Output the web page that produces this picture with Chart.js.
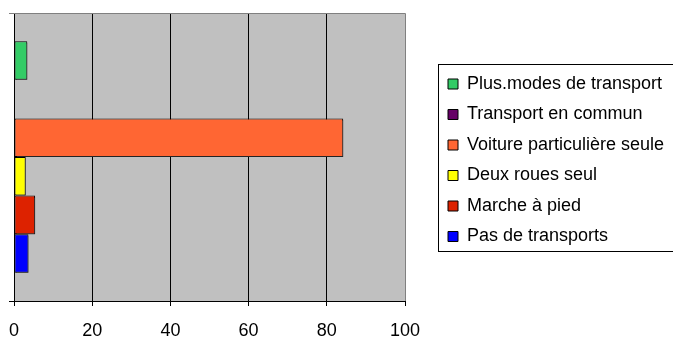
<!DOCTYPE html>
<html>
<head>
<meta charset="utf-8">
<script src="https://cdn.jsdelivr.net/npm/chart.js@4/dist/chart.umd.min.js"></script>
<style>
html,body{margin:0;padding:0;background:#fff;}
#wrap{width:673px;height:338px;position:relative;}
</style>
</head>
<body>
<div id="wrap"><canvas id="c" width="673" height="338"></canvas></div>
<script>
// Data
const categories = [''];
const seriesNames = ['Plus.modes de transport','Transport en commun','Voiture particulière seule','Deux roues seul','Marche à pied','Pas de transports'];
const seriesValues = [3.4, 0, 84.2, 3.0, 5.4, 3.7];
const seriesColors = ['#33CC66','#660066','#FF6633','#FFFF00','#DD2200','#0000FF'];
const xTicks = [0,20,40,60,80,100];

const FONT = '"Liberation Sans", Arial, sans-serif';

const datasets = seriesNames.map((n,i)=>({
  label: n,
  data: [seriesValues[i]],
  backgroundColor: seriesColors[i],
  borderColor: '#000',
  borderWidth: 1,
  borderSkipped: false,
  barPercentage: 1,
  categoryPercentage: 0.804
}));

const LEG_W = 268;      // legend layout width
const LEG_SHIFT = 30.5; // gap between plot and legend
const LEG_TOP = 62.5;

const framePlugin = {
  id: 'frame',
  beforeLayout(chart){
    const lg = chart.legend;
    if (lg && !lg._patched){
      const orig = lg.fit;
      lg.fit = function(){ orig.call(this); if (this.options.display) this.width = LEG_W; };
      lg._patched = true;
    }
  },
  afterLayout(chart){
    const lg = chart.legend;
    if (lg){ lg.left = chart.chartArea.right + LEG_SHIFT; lg.top = LEG_TOP; }
  },
  beforeDraw(chart){
    const {ctx, chartArea:a} = chart;
    ctx.save();
    ctx.fillStyle = '#C0C0C0';
    ctx.fillRect(a.left, a.top, a.right-a.left, a.bottom-a.top);
    ctx.restore();
  },
  beforeDatasetsDraw(chart){
    const {ctx, chartArea:a} = chart;
    ctx.save();
    ctx.strokeStyle = '#808080';
    ctx.lineWidth = 1;
    ctx.beginPath();
    ctx.moveTo(a.left - 5, a.top+0.5);
    ctx.lineTo(a.right+0.5, a.top+0.5);
    ctx.lineTo(a.right+0.5, a.bottom);
    ctx.stroke();
    ctx.restore();
    ctx.save();
    ctx.shadowColor = 'rgba(60,60,60,0.6)';
    ctx.shadowOffsetX = 1.5;
    ctx.shadowOffsetY = 1.5;
    ctx.shadowBlur = 0;
  },
  afterDatasetsDraw(chart){
    chart.ctx.restore();
  },
  afterDraw(chart){
    const lg = chart.legend;
    if (!lg || !lg.legendHitBoxes || !lg.legendHitBoxes.length) return;
    const hb = lg.legendHitBoxes;
    const first = hb[0], last = hb[hb.length-1];
    const ctx = chart.ctx;
    const l = Math.round(first.left - 10) + 0.5;
    const t = Math.round(first.top - 11) + 0.5;
    const b = Math.round(last.top + last.height + 5) + 0.5;
    ctx.save();
    ctx.strokeStyle = '#000';
    ctx.lineWidth = 1;
    ctx.strokeRect(l, t, chart.width + 5 - l, b - t);
    ctx.restore();
  }
};

new Chart(document.getElementById('c'), {
  type: 'bar',
  data: { labels: categories, datasets },
  options: {
    indexAxis: 'y',
    responsive: false,
    animation: false,
    devicePixelRatio: 1,
    layout: { padding: { left: 9, top: 13, right: 0, bottom: 0 } },
    scales: {
      x: {
        min: 0, max: 100,
        afterBuildTicks(scale){ scale.ticks = xTicks.map(v=>({value:v})); },
        afterFit(scale){ scale.height = 37; scale.paddingLeft = 0; scale.paddingRight = 0; },
        grid: {
          color: ctx => (ctx.tick && (ctx.tick.value === 0 || ctx.tick.value === 100)) ? 'rgba(0,0,0,0)' : '#000',
          tickColor: '#000',
          tickLength: 5,
          lineWidth: 1
        },
        border: { color: '#000', width: 1 },
        ticks: { color: '#000', font: { family: FONT, size: 18, lineHeight: 1 }, padding: 16, maxRotation: 0 }
      },
      y: {
        afterFit(scale){ scale.width = 5; },
        grid: { drawOnChartArea: false, tickLength: 5, tickColor: '#000', offset: true },
        border: { color: '#000', width: 1 },
        ticks: { display: false }
      }
    },
    plugins: {
      legend: {
        position: 'right',
        align: 'start',
        labels: {
          color: '#000',
          font: { family: FONT, size: 18 },
          boxWidth: 10,
          boxHeight: 10,
          padding: 12.5
        }
      },
      tooltip: { enabled: false },
      title: { display: false }
    }
  },
  plugins: [framePlugin]
});
</script>
</body>
</html>
